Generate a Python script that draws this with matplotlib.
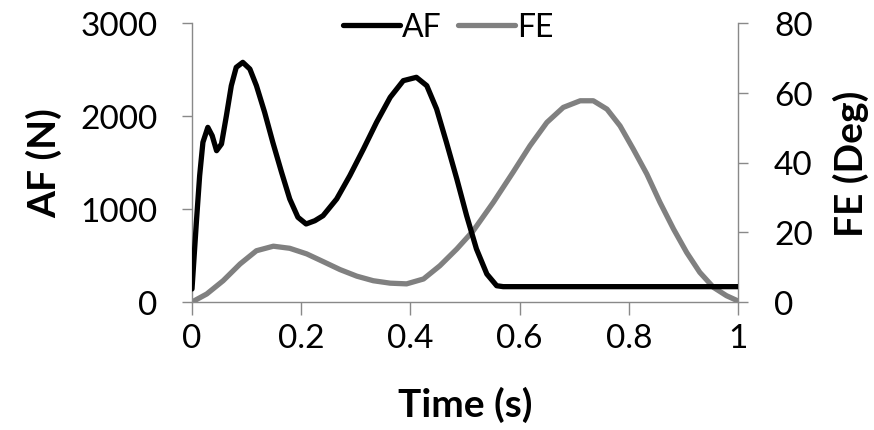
import matplotlib
matplotlib.use("Agg")
import matplotlib.pyplot as plt

# Data
t_af = [0.000, 0.008, 0.014, 0.020, 0.029, 0.037, 0.045, 0.054, 0.063, 0.072,
        0.081, 0.093, 0.106, 0.118, 0.133, 0.148, 0.164, 0.179, 0.194, 0.209,
        0.225, 0.240, 0.265, 0.289, 0.314, 0.338, 0.363, 0.387, 0.411, 0.430,
        0.448, 0.466, 0.485, 0.503, 0.521, 0.540, 0.558, 0.570, 0.600, 0.700,
        0.800, 0.900, 1.000]
af = [140, 857, 1358, 1717, 1878, 1788, 1627, 1699, 2003, 2326,
      2523, 2577, 2505, 2326, 2040, 1717, 1395, 1108, 911, 839,
      874, 928, 1108, 1358, 1645, 1932, 2201, 2380, 2416, 2326,
      2075, 1717, 1323, 928, 570, 301, 175, 165, 165, 165,
      165, 165, 165]

t_fe = [0.000, 0.027, 0.057, 0.088, 0.118, 0.149, 0.179, 0.210, 0.240, 0.271,
        0.302, 0.332, 0.363, 0.393, 0.424, 0.454, 0.485, 0.515, 0.552, 0.588,
        0.619, 0.650, 0.680, 0.711, 0.735, 0.760, 0.784, 0.808, 0.833, 0.857,
        0.882, 0.906, 0.930, 0.955, 0.979, 1.000]
fe = [0.0, 2.3, 6.1, 10.9, 14.7, 16.0, 15.4, 13.8, 11.6, 9.3,
      7.4, 6.1, 5.4, 5.2, 6.6, 10.4, 15.2, 20.4, 28.6, 37.2,
      44.8, 51.5, 55.8, 57.7, 57.7, 55.3, 50.5, 43.9, 36.7, 28.6,
      20.9, 14.2, 8.5, 4.2, 1.8, 0.3]

x_ticks = [0, 0.2, 0.4, 0.6, 0.8, 1]
x_tick_labels = ["0", "0.2", "0.4", "0.6", "0.8", "1"]
af_ticks = [0, 1000, 2000, 3000]
fe_ticks = [0, 20, 40, 60, 80]

plt.rcParams['font.family'] = ['Lato', 'DejaVu Sans']
FS_TICK = 24
FS_LAB = 28
FS_LEG = 23
GRAY_AX = '#898989'

fig = plt.figure(figsize=(8.74, 4.31), dpi=100)
ax = fig.add_axes([192/874, 1-303/431, (738-192)/874, (303-24)/431])
ax2 = ax.twinx()

l1, = ax.plot(t_af, af, color='black', lw=3.8, solid_capstyle='round', solid_joinstyle='round', label='AF', zorder=3)
l2, = ax2.plot(t_fe, fe, color='#808080', lw=3.8, solid_capstyle='round', solid_joinstyle='round', label='FE', zorder=2)
ax.set_zorder(ax2.get_zorder() + 1)
ax.patch.set_visible(False)

ax.set_xlim(0, 1)
ax.set_ylim(0, 3000)
ax2.set_ylim(0, 80)
ax.set_xticks(x_ticks)
ax.set_xticklabels(x_tick_labels)
ax.set_yticks(af_ticks)
ax2.set_yticks(fe_ticks)

for a in (ax, ax2):
    a.spines['top'].set_visible(False)
    for s in ('left', 'right', 'bottom'):
        a.spines[s].set_color(GRAY_AX)
        a.spines[s].set_linewidth(1.0)
    a.tick_params(colors=GRAY_AX, labelcolor='black', labelsize=FS_TICK, length=7, width=1.0)
ax.spines['right'].set_visible(False)
ax2.spines['left'].set_visible(False)
ax2.spines['bottom'].set_visible(False)
ax.tick_params(axis='x', length=9, pad=6)
ax.tick_params(axis='y', pad=18)
ax2.tick_params(axis='y', pad=19)

ax.set_xlabel('Time (s)', fontsize=FS_LAB, fontweight='bold', labelpad=24)
ax.set_ylabel('AF (N)', fontsize=FS_LAB, fontweight='bold', labelpad=13)
ax2.set_ylabel('FE (Deg)', fontsize=FS_LAB, fontweight='bold', labelpad=14)

fig.legend(handles=[l1, l2], loc='center', bbox_to_anchor=(448/874, 1-28/431), ncol=2,
           frameon=False, fontsize=FS_LEG, handlelength=1.8, handletextpad=0.05,
           columnspacing=0.5, borderaxespad=0)

fig.savefig('out.png', dpi=100)
